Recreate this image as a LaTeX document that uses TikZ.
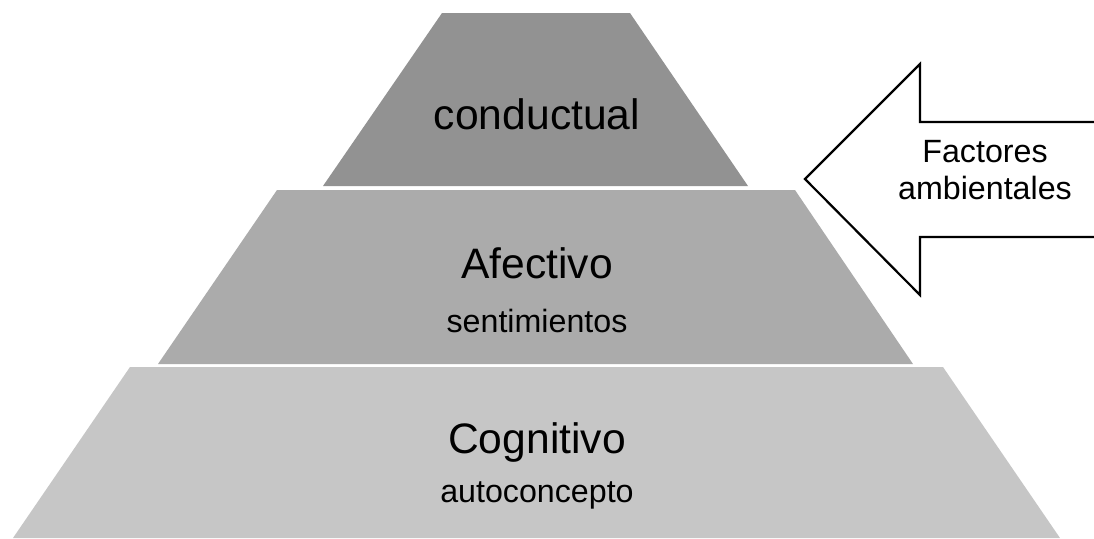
\documentclass[tikz,border=0pt]{standalone}
\usepackage{fontspec}
\setmainfont{Liberation Sans}
\usepackage{tikz}
\usetikzlibrary{calc}
\definecolor{topgray}{RGB}{146,146,146}
\definecolor{midgray}{RGB}{171,171,171}
\definecolor{lowgray}{RGB}{198,198,198}

\begin{document}
\begin{tikzpicture}[x=0.5pt,y=-0.5pt,% pixel grid, y pointing down
			every node/.style={
				align=center,  		% use this so that the "\\" for line break works
				inner sep=0pt
			},
			bigtext/.style={anchor=base,font=\fontsize{21.3}{25}\selectfont},
			smalltext/.style={anchor=base,font=\fontsize{16.1}{19}\selectfont},
			arrowline/.style={draw=black,line width=1.1pt,line join=miter}
		]
		\useasboundingbox[fill=white] (0,0) rectangle (1094,538);
		% the three layers of the pyramid
		\fill[topgray] (442,13) -- (630,13) -- (748,186) -- (323,186) -- cycle;
		\fill[midgray] (277,190) -- (795,190) -- (913,364) -- (158,364) -- cycle;
		\fill[lowgray] (130,367) -- (943,367) -- (1060,538) -- (13,538) -- cycle;
		\node[bigtext](L1) at (537,129) {conductual};
		\node[bigtext](L2) at (537,278) {Afectivo};
		\node[smalltext](L2s) at (537,332) {sentimientos};
		\node[bigtext](L3) at (537,453) {Cognitivo};
		\node[smalltext](L3s) at (537,502) {autoconcepto};
		% arrow coming in from the right
		\coordinate (tip) at (805,179);
		\fill[white] (1094,122) -- (920,122) -- (920,64) -- (tip) -- (920,295) -- (920,237) -- (1094,237) -- cycle;
		\draw[arrowline] (1094,122) -- (920,122) -- (920,64) -- (tip) -- (920,295) -- (920,237) -- (1094,237);
		\node[smalltext](F1) at (985,162) {Factores};
		\node[smalltext](F2) at (985,199) {ambientales};
	\end{tikzpicture}
\end{document}
